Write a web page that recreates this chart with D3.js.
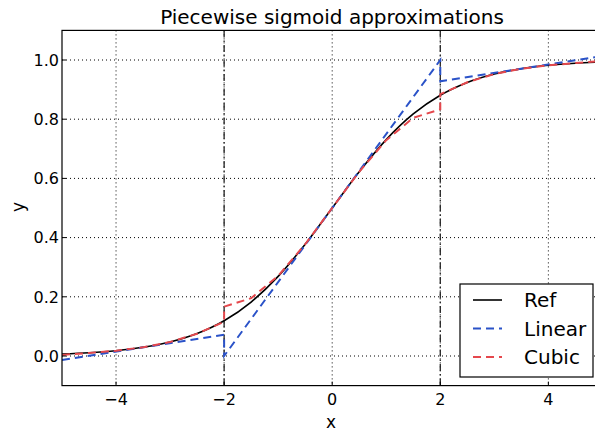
<!DOCTYPE html>
<html>
<head>
<meta charset="utf-8">
<script src="https://cdn.jsdelivr.net/npm/d3@7"></script>
<style>
  body { margin: 0; background: #fff; }
  text { font-family: "DejaVu Sans", sans-serif; fill: #000; }
</style>
</head>
<body>
<div id="chart"></div>
<script>
// Data
var refX = [-5, -4.5, -4, -3.5, -3, -2.5, -2, -1.5, -1, -0.5, 0, 0.5, 1, 1.5, 2, 2.5, 3, 3.5, 4, 4.5, 5];
var refY = [0.0067, 0.0110, 0.0180, 0.0293, 0.0474, 0.0759, 0.1192, 0.1824, 0.2689, 0.3775, 0.5,
            0.6225, 0.7311, 0.8176, 0.8808, 0.9241, 0.9526, 0.9707, 0.9820, 0.9890, 0.9933];

var linearX = [-5, -2, -2, 2, 2, 5];
var linearY = [-0.0134, 0.0720, 0.0, 1.0, 0.928, 1.0134];

var cubicX = [-5, -4.5, -4, -3.5, -3, -2.5, -2,
              -2, -1.5, -1, -0.5, 0, 0.5, 1, 1.5, 2,
              2, 2.5, 3, 3.5, 4, 4.5, 5];
var cubicY = [0.0035, 0.0103, 0.0179, 0.0293, 0.0474, 0.0751, 0.1154,
              0.1667, 0.1953, 0.2708, 0.3776, 0.5, 0.6224, 0.7292, 0.8047, 0.8333,
              0.8846, 0.9249, 0.9526, 0.9707, 0.9821, 0.9897, 0.9965];

var xTicks = [-4, -2, 0, 2, 4];
var yTicks = [0.0, 0.2, 0.4, 0.6, 0.8, 1.0];
var breakX = [-2, 2];

// Chart setup
var svgWidth = 595;
var svgHeight = 432;

var margin = { top: 30.4, left: 62 };
var width = 540.4;
var height = 355.2;

var svg = d3.select("#chart")
  .append("svg")
  .attr("width", svgWidth)
  .attr("height", svgHeight);

svg.append("defs").append("clipPath")
  .attr("id", "plotClip")
  .append("rect")
  .attr("width", width)
  .attr("height", height);

var chartGroup = svg.append("g")
  .attr("transform", `translate(${margin.left}, ${margin.top})`);

var xScale = d3.scaleLinear().domain([-5, 5]).range([0, width]);
var yScale = d3.scaleLinear().domain([-0.1, 1.1]).range([height, 0]);

// Grid
var grid = chartGroup.append("g").attr("clip-path", "url(#plotClip)");
grid.selectAll(".vgrid")
  .data(xTicks)
  .enter()
  .append("line")
  .attr("x1", d => xScale(d))
  .attr("x2", d => xScale(d))
  .attr("y1", 0)
  .attr("y2", height)
  .attr("stroke", "#000")
  .attr("stroke-width", 1)
  .attr("stroke-dasharray", "1,3");

grid.selectAll(".hgrid")
  .data(yTicks)
  .enter()
  .append("line")
  .attr("x1", 0)
  .attr("x2", width)
  .attr("y1", d => yScale(d))
  .attr("y2", d => yScale(d))
  .attr("stroke", "#000")
  .attr("stroke-width", 1)
  .attr("stroke-dasharray", "1,3");

// dash-dot lines at the breakpoints
grid.selectAll(".breaks")
  .data(breakX)
  .enter()
  .append("line")
  .attr("x1", d => xScale(d))
  .attr("x2", d => xScale(d))
  .attr("y1", 0)
  .attr("y2", height)
  .attr("stroke", "#222")
  .attr("stroke-width", 1.3)
  .attr("stroke-dasharray", "7,3,1.5,3");

// Curves
var plot = chartGroup.append("g").attr("clip-path", "url(#plotClip)");

function makeLine(xs, ys, curve) {
  return d3.line()
    .x((d, i) => xScale(xs[i]))
    .y((d, i) => yScale(ys[i]))
    .curve(curve)(xs);
}

plot.append("path")
  .attr("d", makeLine(refX, refY, d3.curveMonotoneX))
  .attr("fill", "none")
  .attr("stroke", "#000")
  .attr("stroke-width", 1.6);

plot.append("path")
  .attr("d", makeLine(linearX, linearY, d3.curveLinear))
  .attr("fill", "none")
  .attr("stroke", "#2a52c8")
  .attr("stroke-width", 2)
  .attr("stroke-dasharray", "8,5");

plot.append("path")
  .attr("d", makeLine(cubicX, cubicY, d3.curveLinear))
  .attr("fill", "none")
  .attr("stroke", "#e5484d")
  .attr("stroke-width", 2)
  .attr("stroke-dasharray", "8,5");

// Axes frame and ticks
var frame = chartGroup.append("g");
frame.append("rect")
  .attr("width", width)
  .attr("height", height)
  .attr("fill", "none")
  .attr("stroke", "#000")
  .attr("stroke-width", 1.2);

frame.selectAll(".xt")
  .data(xTicks)
  .enter()
  .append("line")
  .attr("x1", d => xScale(d))
  .attr("x2", d => xScale(d))
  .attr("y1", height)
  .attr("y2", height - 4)
  .attr("stroke", "#000");

frame.selectAll(".yt")
  .data(yTicks)
  .enter()
  .append("line")
  .attr("x1", 0)
  .attr("x2", 4)
  .attr("y1", d => yScale(d))
  .attr("y2", d => yScale(d))
  .attr("stroke", "#000");

// Tick labels
chartGroup.selectAll(".xlab")
  .data(xTicks)
  .enter()
  .append("text")
  .attr("x", d => xScale(d))
  .attr("y", height + 19)
  .attr("text-anchor", "middle")
  .attr("font-size", 16)
  .text(d => d < 0 ? "\u2212" + Math.abs(d) : d);

chartGroup.selectAll(".ylab")
  .data(yTicks)
  .enter()
  .append("text")
  .attr("x", -3)
  .attr("y", d => yScale(d))
  .attr("dy", "0.36em")
  .attr("text-anchor", "end")
  .attr("font-size", 16)
  .text(d => d.toFixed(1));

// Title and axis labels
svg.append("text")
  .attr("x", 332)
  .attr("y", 24)
  .attr("text-anchor", "middle")
  .attr("font-size", 20)
  .text("Piecewise sigmoid approximations");

svg.append("text")
  .attr("x", 331)
  .attr("y", 428)
  .attr("text-anchor", "middle")
  .attr("font-size", 17)
  .text("x");

svg.append("text")
  .attr("transform", "translate(24, 207) rotate(-90)")
  .attr("text-anchor", "middle")
  .attr("font-size", 17)
  .text("y");

// Legend
var legendItems = [
  { name: "Ref", color: "#000", dash: null, w: 1.6 },
  { name: "Linear", color: "#2a52c8", dash: "8,5", w: 2 },
  { name: "Cubic", color: "#e5484d", dash: "8,5", w: 2 }
];

var legend = svg.append("g").attr("transform", "translate(460, 284)");
legend.append("rect")
  .attr("width", 133)
  .attr("height", 93)
  .attr("fill", "#fff")
  .attr("stroke", "#000")
  .attr("stroke-width", 1.2);

var entries = legend.selectAll(".entry")
  .data(legendItems)
  .enter()
  .append("g")
  .attr("transform", (d, i) => `translate(0, ${16 + i * 28.5})`);

entries.append("line")
  .attr("x1", 13)
  .attr("x2", 42)
  .attr("stroke", d => d.color)
  .attr("stroke-width", d => d.w)
  .attr("stroke-dasharray", d => d.dash);

entries.append("text")
  .attr("x", 64)
  .attr("dy", "0.36em")
  .attr("font-size", 20)
  .text(d => d.name);
</script>
</body>
</html>
